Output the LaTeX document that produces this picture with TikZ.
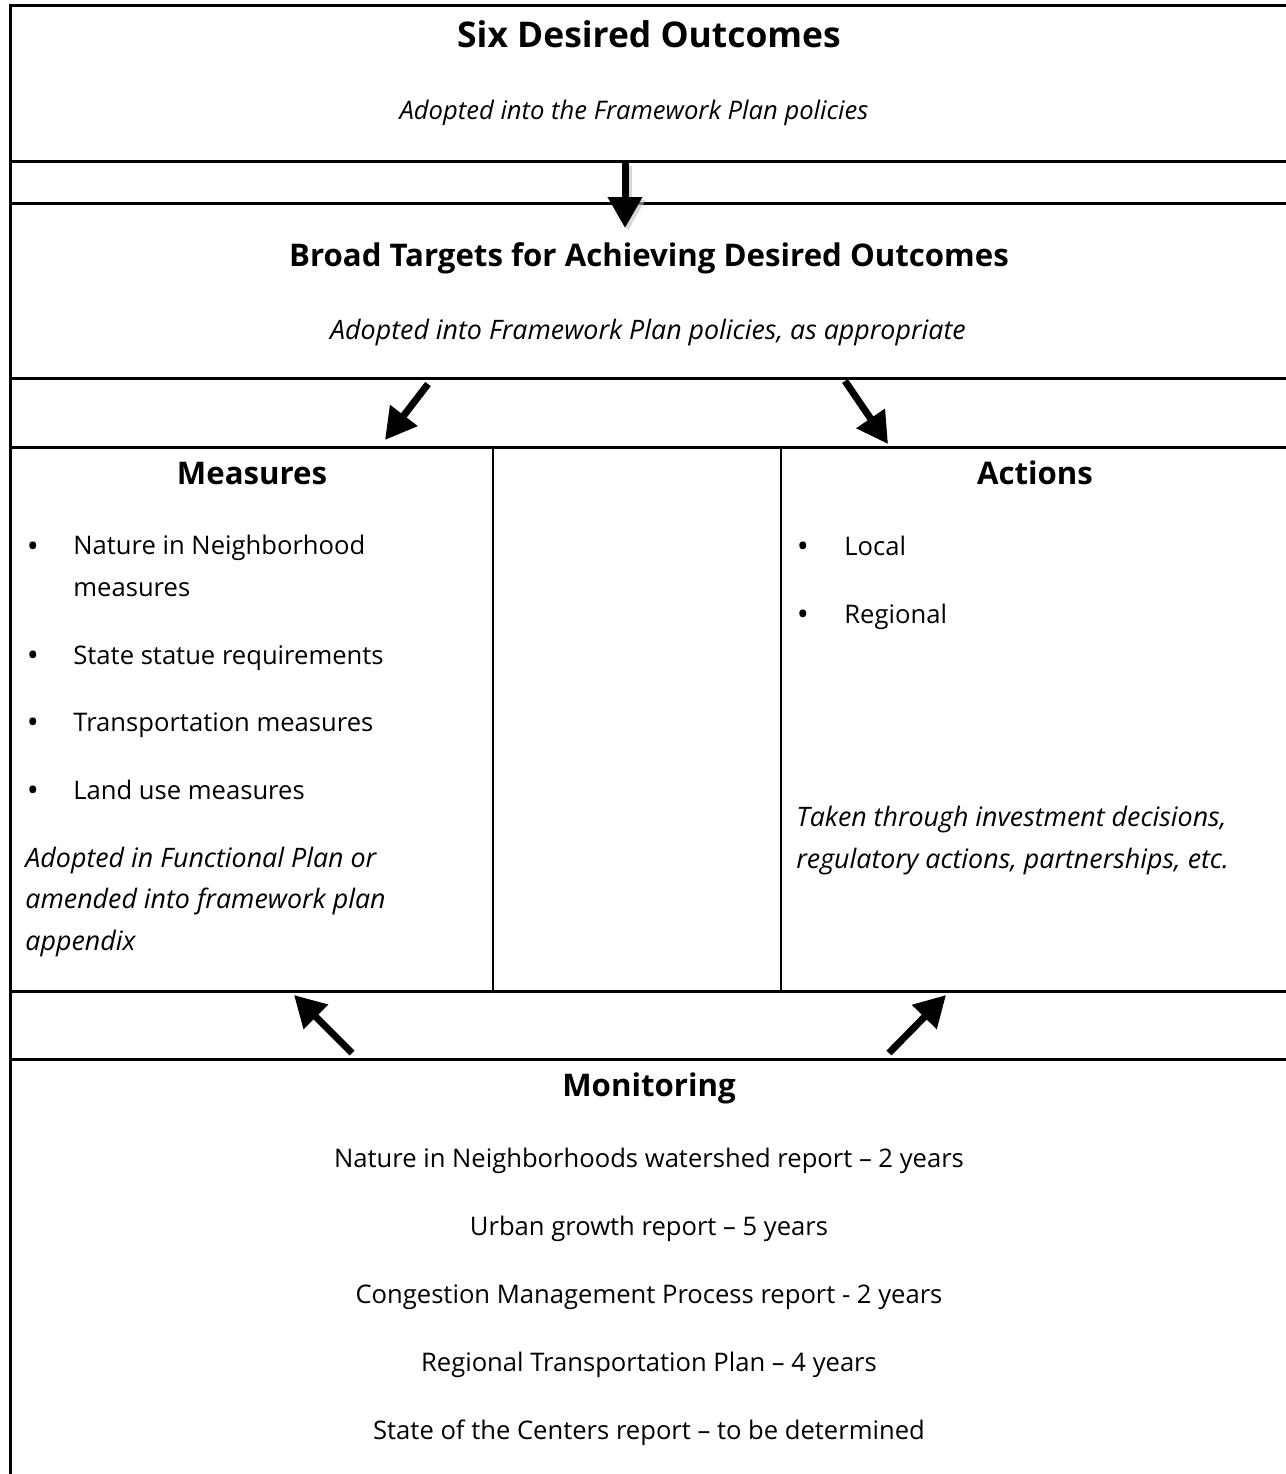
\documentclass[tikz,border=0pt]{standalone}
\usepackage{fontspec}
\setmainfont{Open Sans}
\usetikzlibrary{arrows.meta}
\tikzset{
  rule/.style={line width=1.5pt, black},
  divider/.style={line width=1pt, black},
  bigarrow/.style={line width=3.5pt, -{Triangle[width=16.5pt,length=15.5pt]}},
  headtxt/.style={font=\bfseries\fontsize{15.6}{19}\selectfont, inner sep=0pt},
  bigheadtxt/.style={font=\bfseries\fontsize{17.7}{21}\selectfont, inner sep=0pt},
  bodytxt/.style={font=\fontsize{12.8}{20.6}\selectfont, inner sep=0pt, align=left},
  bullettxt/.style={font=\fontsize{16}{20.6}\selectfont, inner sep=0pt},
  ittxt/.style={font=\itshape\fontsize{12.8}{20.6}\selectfont, inner sep=0pt, align=left},
  bigittxt/.style={font=\itshape\fontsize{13.4}{20.7}\selectfont, inner sep=0pt, align=left},
}
\begin{document}
\begin{tikzpicture}[x=0.5pt,y=-0.5pt]
\useasboundingbox (0,0) rectangle (1286,1474);
% frame
\draw[rule] (1286,5) -- (10,5) -- (10,1474);
\foreach \yy in {161,203,378,447,991,1059} \draw[rule] (10,\yy) -- (1286,\yy);
\draw[divider] (493,447) -- (493,991);
\draw[divider] (781,447) -- (781,991);
% top box
\node[bigheadtxt, anchor=base] (t1) at (649,47) {Six Desired Outcomes};
\node[ittxt, anchor=base] (t1s) at (634,119) {Adopted into the Framework Plan policies};
% second box
\node[headtxt, anchor=base] (t2) at (649,266) {Broad Targets for Achieving Desired Outcomes};
\node[bigittxt, anchor=base] (t2s) at (648,339) {Adopted into Framework Plan policies, as appropriate};
% measures
\node[headtxt, anchor=base] (m) at (252,484) {Measures};
\node[bullettxt, anchor=base] (mb1) at (33,557) {•};
\node[bodytxt, anchor=base west] (m1) at (73,596) {Nature in Neighborhood\\measures};
\node[bullettxt, anchor=base] (mb2) at (33,666) {•};
\node[bodytxt, anchor=base west] (m2) at (73,664) {State statue requirements};
\node[bullettxt, anchor=base] (mb3) at (33,733) {•};
\node[bodytxt, anchor=base west] (m3) at (73,731) {Transportation measures};
\node[bullettxt, anchor=base] (mb4) at (33,801) {•};
\node[bodytxt, anchor=base west] (m4) at (73,799) {Land use measures};
\node[bigittxt, anchor=base west] (mi) at (25,950) {Adopted in Functional Plan or\\amended into framework plan\\appendix};
% actions
\node[headtxt, anchor=base] (a) at (1035,484) {Actions};
\node[bullettxt, anchor=base] (ab1) at (803,557) {•};
\node[bodytxt, anchor=base west] (a1) at (844,555) {Local};
\node[bullettxt, anchor=base] (ab2) at (803,625) {•};
\node[bodytxt, anchor=base west] (a2) at (844,623) {Regional};
\node[bigittxt, anchor=base west] (ai) at (796,868) {Taken through investment decisions,\\regulatory actions, partnerships, etc.};
% monitoring
\node[headtxt, anchor=base] (mo) at (649,1096) {Monitoring};
\node[bodytxt, anchor=base] (mo1) at (649,1167) {Nature in Neighborhoods watershed report – 2 years};
\node[bodytxt, anchor=base] (mo2) at (649,1235) {Urban growth report – 5 years};
\node[bodytxt, anchor=base] (mo3) at (649,1303) {Congestion Management Process report - 2 years};
\node[bodytxt, anchor=base] (mo4) at (649,1371) {Regional Transportation Plan – 4 years};
\node[bodytxt, anchor=base] (mo5) at (649,1439) {State of the Centers report – to be determined};
% arrows
\coordinate (ta) at (625,163);
\coordinate (tb) at (625,228);
\coordinate (sa) at (628,166);
\coordinate (sb) at (628,231);
\draw[bigarrow, black!25, opacity=0.6] (sa) -- (sb);
\draw[bigarrow] (ta) -- (tb);
\coordinate (la) at (428,384);
\coordinate (lb) at (385,440);
\draw[bigarrow] (la) -- (lb);
\coordinate (ra) at (845,381);
\coordinate (rb) at (888,444);
\draw[bigarrow] (ra) -- (rb);
\coordinate (bla) at (352,1053);
\coordinate (blb) at (294,995);
\draw[bigarrow] (bla) -- (blb);
\coordinate (bra) at (889,1053);
\coordinate (brb) at (946,995);
\draw[bigarrow] (bra) -- (brb);
\end{tikzpicture}
\end{document}
